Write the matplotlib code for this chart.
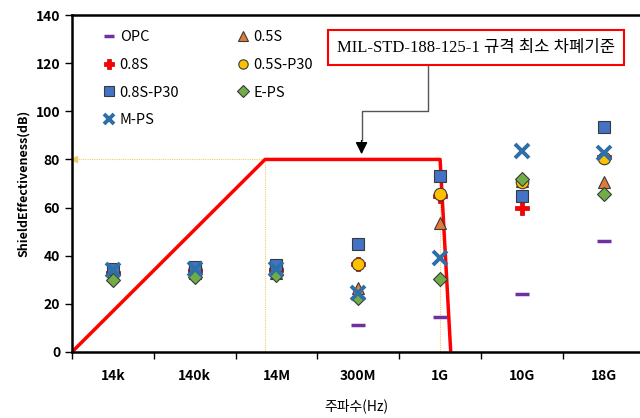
import numpy as np
import matplotlib.pyplot as plt

plt.rcParams['font.family'] = ['Noto Sans CJK KR', 'DejaVu Sans']

# Frequency categories
freqs = ['14k', '140k', '14M', '300M', '1G', '10G', '18G']

# Shielding effectiveness (dB) per specimen
opc      = [33.0, 34.0, 34.0, 11.0, 14.5, 24.0, 46.0]
s05      = [32.0, 33.0, 33.0, 26.5, 53.5, 71.0, 70.5]
s08      = [33.0, 33.5, 34.0, 36.5, 65.0, 60.0, 81.0]
s05_p30  = [33.0, 35.0, 35.0, 36.5, 65.5, 70.5, 80.5]
s08_p30  = [34.5, 35.5, 36.0, 45.0, 73.0, 65.0, 93.5]
e_ps     = [30.0, 31.0, 32.0, 22.5, 30.5, 72.0, 65.5]
m_ps     = [34.0, 34.5, 34.5, 24.5, 39.0, 83.5, 82.5]

# MIL-STD-188-125-1 minimum shielding limit (category-axis units)
limit_x = [0.0, 2.36, 4.5, 4.63]
limit_y = [0, 80, 80, 0]

fig = plt.figure(figsize=(6.4, 4.18), dpi=100)
ax = fig.add_axes([0.1125, 0.158, 0.8875, 0.806])

x = np.arange(len(freqs)) + 0.5
edge = '#3a3a3a'

# guide lines (thin yellow)
guide = dict(color='#F7C96A', lw=0.8, linestyle=(0, (1, 1)), zorder=1)
ax.plot([0.05, limit_x[1]], [80, 80], **guide)
ax.plot([limit_x[1], limit_x[1]], [0, 80], **guide)
ax.plot([limit_x[2], limit_x[2]], [0, 80], **guide)
ax.plot([0.03], [80], marker='<', color='#F7C96A', markersize=5, zorder=1)

ax.plot(limit_x, limit_y, color='#FF0000', lw=2.5, zorder=2)

h_opc, = ax.plot(x, opc, ls='none', marker='_', color='#7030A0', markersize=10, mew=2.5, zorder=3, label='OPC')
h_05, = ax.plot(x, s05, ls='none', marker='^', color='#E07B39', mec=edge, mew=0.8, markersize=9, zorder=4, label='0.5S')
h_08, = ax.plot(x, s08, ls='none', marker='P', color='#FF0000', mec='#C00000', mew=0.5, markersize=10, zorder=4, label='0.8S')
h_05p, = ax.plot(x, s05_p30, ls='none', marker='o', color='#FFC000', mec=edge, mew=0.8, markersize=9, zorder=5, label='0.5S-P30')
h_08p, = ax.plot(x, s08_p30, ls='none', marker='s', color='#4472C4', mec=edge, mew=0.8, markersize=9, zorder=5, label='0.8S-P30')
h_e, = ax.plot(x, e_ps, ls='none', marker='D', color='#70AD47', mec=edge, mew=0.8, markersize=7.5, zorder=6, label='E-PS')
h_m, = ax.plot(x, m_ps, ls='none', marker='x', color='#2E6FA8', mew=2.8, markersize=10, zorder=6, label='M-PS')

handles = [h_opc, h_08, h_08p, h_m, h_05, h_05p, h_e]
ax.legend(handles=handles, ncol=2, loc='upper left', bbox_to_anchor=(0.03, 0.995),
          frameon=False, fontsize=10.5, handlelength=0.9, handletextpad=0.3,
          columnspacing=3.9, labelspacing=0.95, markerscale=0.75)

ax.set_xlim(0, 6.944)
ax.set_ylim(0, 140)
ax.set_yticks(np.arange(0, 141, 20))
ax.set_xticks(np.arange(0, 7))
ax.set_xticklabels([])
ax.set_xticks(x, minor=True)
ax.set_xticklabels(freqs, minor=True)
ax.tick_params(axis='x', which='minor', length=0, pad=12)
ax.tick_params(axis='both', which='major', length=5, width=1, direction='out')
for lab in ax.get_xticklabels(minor=True) + ax.get_yticklabels():
    lab.set_fontweight('bold')
    lab.set_fontsize(10)

for s in ['left', 'bottom', 'top']:
    ax.spines[s].set_linewidth(1.8)
ax.spines['right'].set_visible(False)

ax.set_ylabel('ShieldEffectiveness(dB)', fontsize=9, fontweight='bold', labelpad=4)
ax.set_xlabel('주파수(Hz)', fontsize=10, labelpad=11)

# standard annotation box with connector
ax.text(4.94, 126.5, 'MIL-STD-188-125-1 규격 최소 차폐기준',
        family=['Liberation Serif', 'Noto Sans CJK KR'], fontsize=12,
        ha='center', va='center', zorder=7,
        bbox=dict(boxstyle='square,pad=0.55', fc='white', ec='#FF0000', lw=1.5))
ax.plot([4.35, 4.35, 3.54, 3.54], [119, 100, 100, 88], color='#555555', lw=1, zorder=7)
ax.annotate('', xy=(3.54, 81), xytext=(3.54, 89),
            arrowprops=dict(arrowstyle='-|>', color='black', lw=1, mutation_scale=18), zorder=7)

fig.savefig('out.png', dpi=100)
